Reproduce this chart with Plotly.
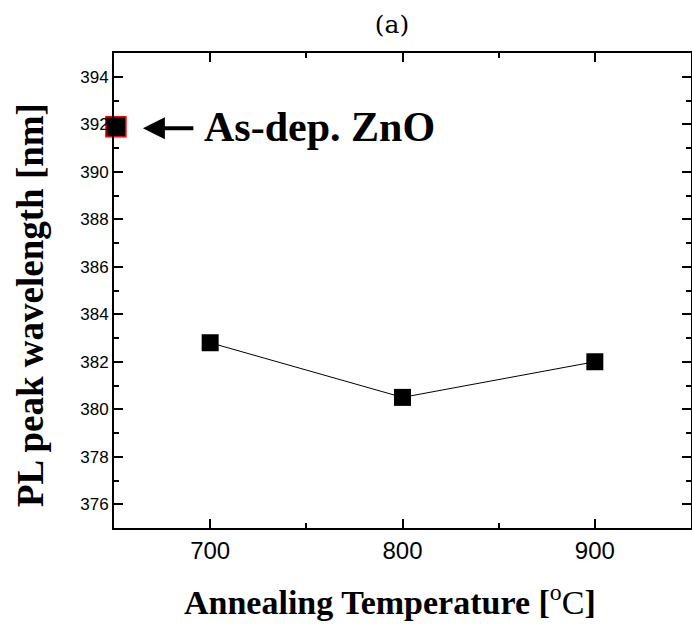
import plotly.graph_objects as go

# Data
temps = [700, 800, 900]
wavelength = [382.8, 380.5, 382.0]
asdep_x = [651]
asdep_y = [391.9]
x_ticks = [700, 800, 900]
y_ticks = [376, 378, 380, 382, 384, 386, 388, 390, 392, 394]

fig = go.Figure()
fig.add_trace(go.Scatter(
    x=temps, y=wavelength, mode="lines+markers",
    line=dict(color="black", width=1),
    marker=dict(symbol="square", size=17, color="black"),
    showlegend=False, cliponaxis=False))
fig.add_trace(go.Scatter(
    x=asdep_x, y=asdep_y, mode="markers",
    marker=dict(symbol="square", size=20, color="black",
                line=dict(color="red", width=1.5)),
    showlegend=False, cliponaxis=False))

# arrow and label
fig.add_annotation(x=665, y=391.83, xref="x", yref="y", ax=52, ay=0,
                   axref="pixel", ayref="pixel", text="", showarrow=True,
                   arrowhead=2, arrowwidth=4, arrowsize=1.1, arrowcolor="black")
fig.add_annotation(x=696, y=391.9, xref="x", yref="y", xanchor="left",
                   yanchor="middle", showarrow=False,
                   text="<b>As-dep. ZnO</b>",
                   font=dict(family="Liberation Serif", size=42, color="black"))

# axis titles
fig.add_annotation(x=(390 - 114) / 577, y=0, xref="paper", yref="paper",
                   yshift=-72, xanchor="center", yanchor="middle",
                   showarrow=False,
                   text="<b>Annealing Temperature [</b><sup>o</sup>C<b>]</b>",
                   font=dict(family="Liberation Serif", size=34, color="black"))
fig.add_annotation(x=0, y=(528 - 305) / 475, xref="paper", yref="paper",
                   xshift=-84, xanchor="center", yanchor="middle",
                   showarrow=False, textangle=-90,
                   text="<b>PL peak wavelength [nm]</b>",
                   font=dict(family="Liberation Serif", size=37, color="black"))

axis_common = dict(showgrid=False, zeroline=False, showline=True,
                   linecolor="black", linewidth=2, mirror="ticks",
                   ticks="inside", ticklen=9, tickwidth=1.5, tickcolor="black")

fig.update_xaxes(range=[650, 950], tickvals=x_ticks,
                 ticktext=[str(v) for v in x_ticks],
                 tickfont=dict(family="Liberation Sans", size=24, color="black"),
                 minor=dict(ticks="inside", ticklen=5, tickwidth=1.5,
                            tickcolor="black", dtick=50, tick0=650),
                 **axis_common)
fig.update_yaxes(range=[375, 395], tickvals=y_ticks,
                 ticktext=[str(v) for v in y_ticks],
                 tickfont=dict(family="Liberation Sans", size=17, color="black"),
                 minor=dict(ticks="inside", ticklen=5, tickwidth=1.5,
                            tickcolor="black", dtick=1, tick0=375),
                 **axis_common)

fig.update_layout(
    width=692, height=631,
    margin=dict(l=114, r=1, t=53, b=103, autoexpand=False),
    paper_bgcolor="white", plot_bgcolor="white",
    title=dict(text="(a)", x=(392 - 114) / 577, xref="paper", xanchor="center",
               y=0.962, yref="container", yanchor="middle",
               font=dict(family="DejaVu Serif", size=25, color="black")),
)

fig.write_html("out.html")
